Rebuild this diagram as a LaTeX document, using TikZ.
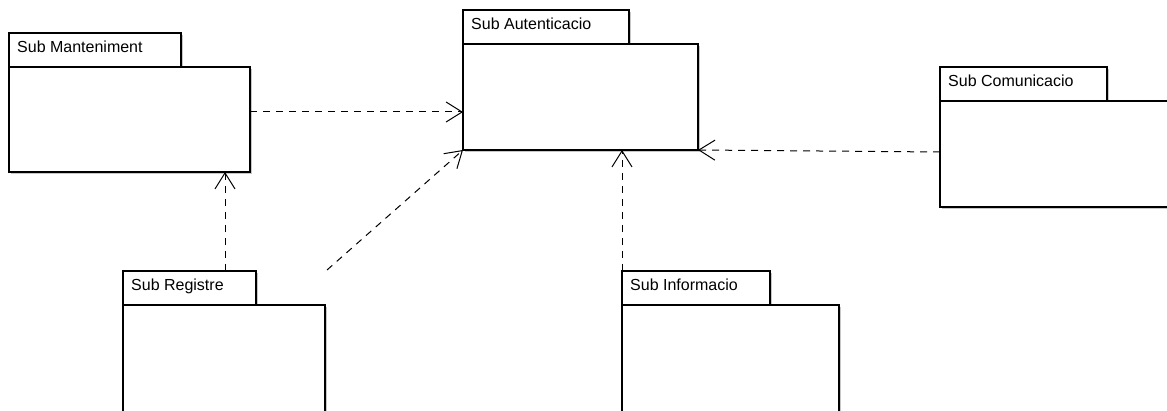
\documentclass[tikz,border=0pt]{standalone}
\usepackage{fontspec}
\setmainfont{Liberation Sans}
\usetikzlibrary{arrows.meta,calc}

% UML package: #1 name, #2 x, #3 y (top of tab), #4 tab width,
% #5 body width, #6 body height, #7 label
\newcommand\umlpackage[7]{%
  \fill[pkgshadow] (#2+2,#3+2) rectangle ++(#4,34);
  \fill[pkgshadow] (#2+2,#3+36) rectangle ++(#5,#6);
  \node[pkgbox, minimum width=#4, minimum height=34] (#1tab) at (#2,#3) {};
  \node[pkgbox, minimum width=#5, minimum height=#6] (#1) at (#2,#3+34) {};
  \node[pkglabel] (#1lbl) at (#2+8,#3+20) {#7};
}

\begin{document}
\begin{tikzpicture}[x=1pt,y=-1pt,
  pkgshadow/.style={black!22},
  pkgbox/.style={draw=black, line width=1.3pt, fill=white, inner sep=0pt,
                 outer sep=0pt, anchor=north west},
  pkglabel/.style={anchor=base west, inner sep=0pt,
                   font=\fontsize{16}{18}\selectfont},
  dep/.style={draw=black, line width=1pt, dash pattern=on 7pt off 6pt,
              -{Straight Barb[length=16pt,width=20pt,line width=1pt]}}]
\useasboundingbox (0,0) rectangle (1167,411);
\clip (0,0) rectangle (1167,411);

\umlpackage{man}{9}{33}{172}{241}{105}{Sub Manteniment}
\umlpackage{aut}{463}{10}{166}{235}{106}{Sub Autenticacio}
\umlpackage{com}{940}{67}{167}{235}{106}{Sub Comunicacio}
\umlpackage{reg}{123}{271}{133}{202}{112}{Sub Registre}
\umlpackage{inf}{622}{271}{148}{217}{112}{Sub Informacio}

% dependency connectors
\coordinate (rowA) at (0,112);
\coordinate (rowB) at (0,152);
\coordinate (colA) at (225,0);
\coordinate (loose) at (327,270);

\draw[dep] (man.north east |- rowA) -- (aut.north west |- rowA);
\draw[dep] (regtab.north -| colA) -- (man.south -| colA);
\draw[dep] (loose) -- (aut.south west);
\draw[dep] (inftab.north west) -- (inftab.north west |- aut.south);
\draw[dep] (com.north west |- rowB) -- (aut.south east);
\end{tikzpicture}
\end{document}
